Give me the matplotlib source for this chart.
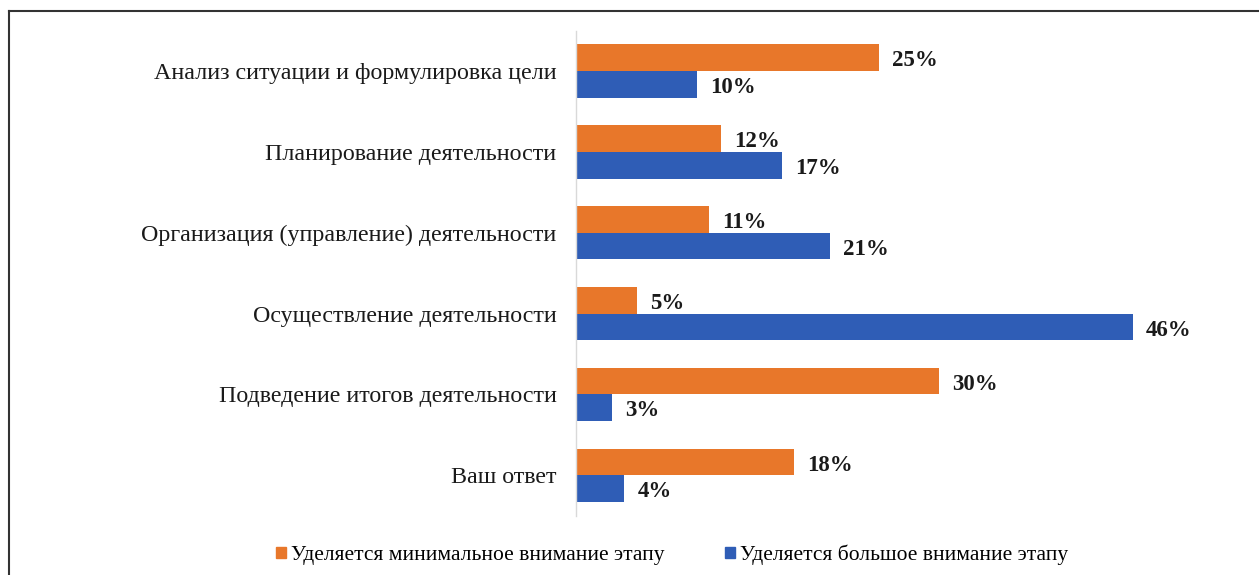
import matplotlib
matplotlib.use("Agg")
import matplotlib.pyplot as plt
from matplotlib.lines import Line2D
from matplotlib.patches import Patch

categories = [
    "Анализ ситуации и формулировка цели",
    "Планирование деятельности",
    "Организация (управление) деятельности",
    "Осуществление деятельности",
    "Подведение итогов деятельности",
    "Ваш ответ",
]
minimal = [25, 12, 11, 5, 30, 18]
large = [10, 17, 21, 46, 3, 4]
series_names = ["Уделяется минимальное внимание этапу", "Уделяется большое внимание этапу"]

ORANGE = "#E8772A"
BLUE = "#2F5DB6"

W, H = 1259, 575
fig = plt.figure(figsize=(W / 100, H / 100), dpi=100)
plt.rcParams["font.family"] = ["Liberation Serif", "DejaVu Serif"]

left = 576 / W
top_px, bot_px = 30.6, 515.6
ax = fig.add_axes([left, 1 - bot_px / H, (1181 - 576) / W, (bot_px - top_px) / H])

bh = 0.33
y = list(range(len(categories)))
ax.barh([i - bh / 2 for i in y], minimal, height=bh, color=ORANGE)
ax.barh([i + bh / 2 for i in y], large, height=bh, color=BLUE)

for i in y:
    ax.text(minimal[i] + 1.1, i - bh / 2 + 0.04, f"{minimal[i]}%", va="center", ha="left",
            fontsize=16.5, fontweight="bold", color="#1a1a1a")
    ax.text(large[i] + 1.1, i + bh / 2 + 0.04, f"{large[i]}%", va="center", ha="left",
            fontsize=16.5, fontweight="bold", color="#1a1a1a")

ax.set_xlim(0, 50)
ax.set_ylim(5.5, -0.5)
ax.set_yticks(y)
ax.set_yticklabels(categories, fontsize=17.3, color="#1a1a1a")
ax.tick_params(axis="y", length=0, pad=14)
ax.set_xticks([])
for s in ["top", "right", "bottom"]:
    ax.spines[s].set_visible(False)
ax.spines["left"].set_color("#d9d9d9")
ax.spines["left"].set_linewidth(1)

handles = [Patch(color=ORANGE), Patch(color=BLUE)]
fig.legend(handles, series_names, loc="center", bbox_to_anchor=(672 / W, 1 - 555 / H),
           ncol=2, frameon=False, fontsize=15.5, handlelength=0.46, handleheight=0.46,
           handletextpad=0.25, columnspacing=2.8)

# outer frame
fig.add_artist(Line2D([9 / W, 1], [1 - 11 / H, 1 - 11 / H], color="#333333", lw=1.5,
                      transform=fig.transFigure))
fig.add_artist(Line2D([9 / W, 9 / W], [0, 1 - 11 / H], color="#333333", lw=1.5,
                      transform=fig.transFigure))

fig.savefig("out.png", dpi=100)
